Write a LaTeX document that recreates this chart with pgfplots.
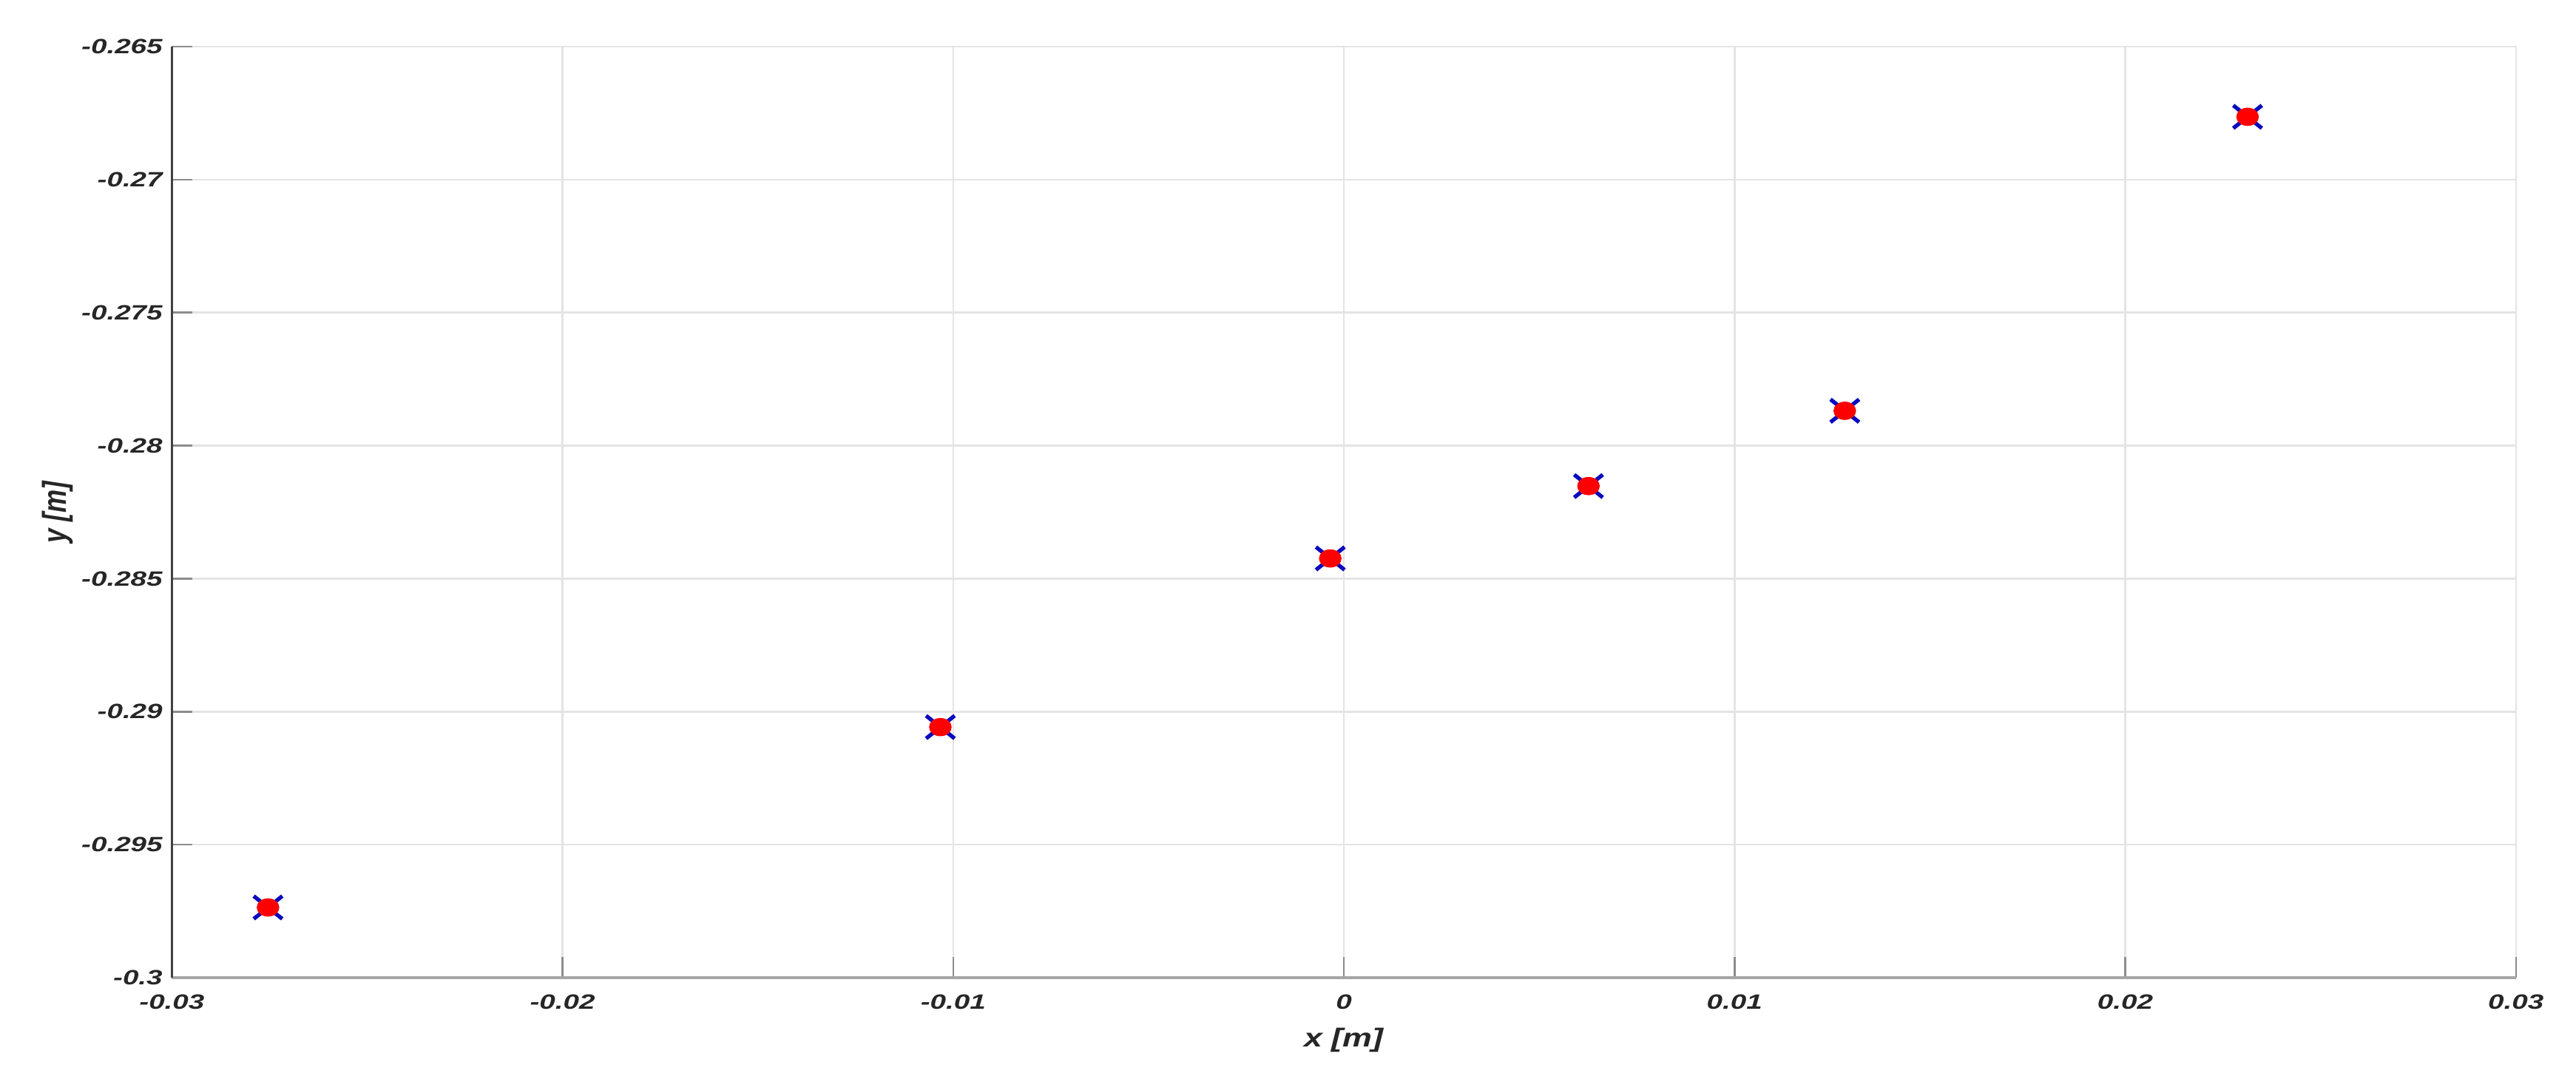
\documentclass[border=0pt]{standalone}
\usepackage{fontspec}
\setmainfont{Liberation Sans}
\newfontfamily\tickfont[FakeStretch=1.38]{Liberation Sans}
\newfontfamily\labfont[FakeStretch=1.28]{Liberation Sans}
\usepackage{pgfplots}
\pgfplotsset{compat=1.18}

\definecolor{txt}{RGB}{38,38,38}
\definecolor{gridc}{RGB}{228,228,228}
\definecolor{mblue}{RGB}{10,10,190}

\begin{document}
\begin{tikzpicture}
\begin{axis}[
  scale only axis,
  width=1131.8pt,
  height=449.6pt,
  xmin=-0.03, xmax=0.03,
  ymin=-0.3, ymax=-0.265,
  xtick={-0.03,-0.02,...,0.031},
  ytick={-0.3,-0.295,...,-0.2649},
  scaled ticks=false,
  axis lines=left,
  axis line style={-},
  x axis line style={draw=black!35, line width=1.2pt},
  y axis line style={draw=black!75, line width=0.9pt},
  tick align=inside,
  major tick length=10pt,
  tick style={draw=black!45, line width=0.9pt},
  grid=major,
  major grid style={draw=gridc, line width=0.9pt},
  /pgf/number format/assume math mode=true,
  /pgf/number format/fixed,
  /pgf/number format/precision=3,
  tick label style={font=\tickfont\fontsize{10}{12}\selectfont\bfseries\itshape, text=txt},
  xticklabel style={yshift=-4.5pt},
  yticklabel style={xshift=-1pt},
  xlabel={x [m]},
  ylabel={y [m]},
  xlabel style={font=\labfont\fontsize{12.5}{14}\selectfont\bfseries\itshape, text=txt, yshift=-2.4pt},
  ylabel style={font=\fontsize{12.5}{14}\selectfont\bfseries\itshape, text=txt, yscale=1.28, yshift=-3pt},
  clip=false,
]
\addplot[only marks, mark=x, mark size=7.8pt, mark options={draw=mblue, line width=1.9pt, xscale=1.25}]
  coordinates {(-0.02754,-0.29736) (-0.01033,-0.29058) (-0.00035,-0.28424)
               (0.00626,-0.28152) (0.01282,-0.27869) (0.02313,-0.26764)};
\addplot[only marks, mark=*, mark size=4.2pt, mark options={draw=red, fill=red, xscale=1.25}]
  coordinates {(-0.02754,-0.29736) (-0.01033,-0.29058) (-0.00035,-0.28424)
               (0.00626,-0.28152) (0.01282,-0.27869) (0.02313,-0.26764)};
\end{axis}
\pgfresetboundingbox
\path ([shift={(-83pt,-48.6pt)}]current axis.south west) rectangle ([shift={(29pt,22.5pt)}]current axis.north east);
\end{tikzpicture}
\end{document}
